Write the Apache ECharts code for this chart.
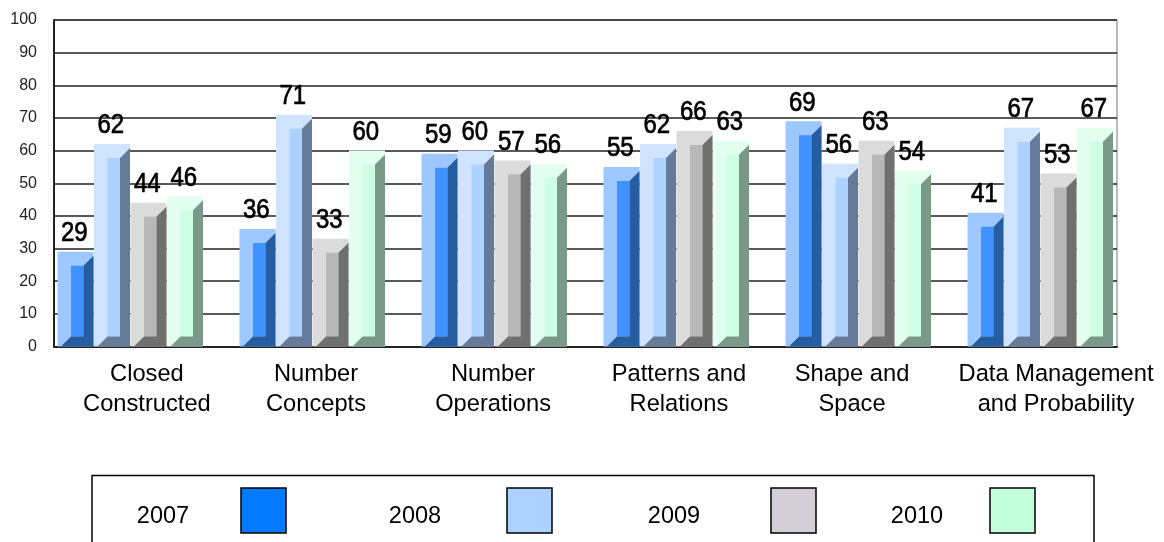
<!DOCTYPE html>
<html>
<head>
<meta charset="utf-8">
<title>chart</title>
<script src="https://cdn.jsdelivr.net/npm/echarts@6/dist/echarts.min.js"></script>
<style>
html, body { margin: 0; padding: 0; background: #fff; overflow: hidden; }
#chart { width: 1164px; height: 542px; }
</style>
</head>
<body>
<div id="chart"></div>
<script>
var categories = ['Closed\nConstructed', 'Number\nConcepts', 'Number\nOperations', 'Patterns and\nRelations', 'Shape and\nSpace', 'Data Management\nand Probability'];
var years = ['2007', '2008', '2009', '2010'];
var values2007 = [29, 36, 59, 55, 69, 41];
var values2008 = [62, 71, 60, 62, 56, 67];
var values2009 = [44, 33, 57, 66, 63, 53];
var values2010 = [46, 60, 56, 63, 54, 67];
var yTicks = [0, 10, 20, 30, 40, 50, 60, 70, 80, 90, 100];

// the axis labels are not evenly spaced in the original
var labelSpots = [0.093, 1.022, 1.995, 3.016, 3.967, 5.088];
var legendSpots = [[163, 241], [415, 507], [674, 771], [917, 990]];

var colors = [
  { light: '#9cc7ff', mid: '#4093ff', dark: '#265ca0', swatch: '#007bff' },
  { light: '#d0e3ff', mid: '#aed2ff', dark: '#667b99', swatch: '#aed2ff' },
  { light: '#dbdbdb', mid: '#b8b8b8', dark: '#707070', swatch: '#d2cfd6' },
  { light: '#e3fff0', mid: '#ccffe3', dark: '#7b9988', swatch: '#c4ffdc' }
];

var FONT = '"Liberation Sans", Arial, sans-serif';
var BAR_SLOT = 36.5 / 182; // one bar as a share of a group
var EDGE = 14;
var DEPTH = 10;

// fake 3d bar, same look as the old chart
function drawBar(params, api) {
  var k = params.seriesIndex;
  var pt = api.coord([api.value(0) + (k - 2) * BAR_SLOT, api.value(1)]);
  var base = api.coord([0, 0]);
  var w = api.size([BAR_SLOT, 0])[0];
  var x0 = pt[0];
  var x1 = x0 + w;
  var top = pt[1];
  var bottom = base[1];
  var c = colors[k];
  return {
    type: 'group',
    children: [
      { type: 'rect', shape: { x: x0 + 0.5, y: top, width: w - 0.5, height: bottom - top }, style: { fill: c.light } },
      { type: 'rect', shape: { x: x0 + EDGE, y: top + EDGE, width: w - EDGE - DEPTH, height: bottom - top - EDGE - DEPTH }, style: { fill: c.mid } },
      {
        type: 'polygon',
        shape: { points: [
          [x1 - DEPTH, top + EDGE], [x1, top + EDGE - DEPTH], [x1, bottom], [x0 + 4, bottom],
          [x0 + EDGE, bottom - DEPTH], [x1 - DEPTH, bottom - DEPTH]
        ] },
        style: { fill: c.dark }
      },
      {
        // digits in the original are stretched taller than the font
        type: 'text',
        x: x0 + w / 2 - 1,
        y: top - 4.5,
        scaleY: 1.15,
        style: {
          text: String(api.value(1)),
          fill: '#000', font: '24px ' + FONT, align: 'center', verticalAlign: 'bottom',
          stroke: '#000', lineWidth: 0.6
        }
      }
    ]
  };
}

function barSeries(name, values) {
  return {
    name: name,
    type: 'custom',
    renderItem: drawBar,
    clip: false,
    data: values.map(function (v, i) { return [i, v]; })
  };
}

var legendGraphics = [{
  type: 'rect',
  shape: { x: 92, y: 475.5, width: 1002, height: 80 },
  style: { fill: '#fff', stroke: '#000', lineWidth: 1.5 }
}];
years.forEach(function (year, i) {
  legendGraphics.push({
    type: 'text',
    style: { x: legendSpots[i][0], y: 516.5, text: year, fill: '#000', font: '23.5px ' + FONT, align: 'center', verticalAlign: 'middle' }
  });
  legendGraphics.push({
    type: 'rect',
    shape: { x: legendSpots[i][1], y: 488, width: 45, height: 45 },
    style: { fill: colors[i].swatch, stroke: '#000', lineWidth: 1.5 }
  });
});

var chart = echarts.init(document.getElementById('chart'), null, { renderer: 'canvas' });
chart.setOption({
  animation: false,
  backgroundColor: '#fff',
  grid: {
    left: 54, right: 47, top: 20, bottom: 195.5,
    show: true, borderColor: '#777', borderWidth: 1, backgroundColor: 'transparent'
  },
  xAxis: {
    type: 'value',
    min: -0.4176,
    max: 5.423,
    axisLine: { show: true, onZero: false, lineStyle: { color: '#222', width: 2 } },
    axisTick: { show: false },
    splitLine: { show: false },
    axisLabel: {
      customValues: labelSpots,
      formatter: function (v) { return categories[labelSpots.indexOf(v)]; },
      color: '#000',
      fontFamily: FONT,
      fontSize: 23.7,
      lineHeight: 30,
      margin: 13,
      hideOverlap: false,
      showMinLabel: true,
      showMaxLabel: true
    }
  },
  yAxis: {
    type: 'value',
    min: 0,
    max: 100,
    interval: 10,
    axisLine: { show: true, onZero: false, lineStyle: { color: '#222', width: 2 } },
    axisTick: { show: false },
    splitLine: { show: true, lineStyle: { color: '#222', width: 1.5 } },
    axisLabel: {
      formatter: function (v) { return yTicks.indexOf(v) >= 0 ? String(v) : ''; },
      color: '#222',
      fontFamily: FONT,
      fontSize: 16,
      margin: 17,
      padding: [0, 0, 4, 0]
    }
  },
  series: [
    barSeries(years[0], values2007),
    barSeries(years[1], values2008),
    barSeries(years[2], values2009),
    barSeries(years[3], values2010)
  ],
  graphic: legendGraphics
});
</script>
</body>
</html>
